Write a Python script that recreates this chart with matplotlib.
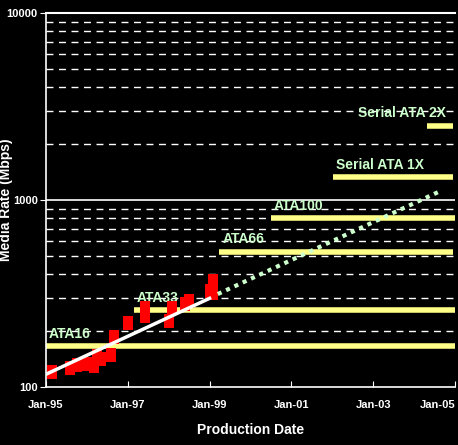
import numpy as np
import matplotlib
matplotlib.use('Agg')
import matplotlib.pyplot as plt
from matplotlib.ticker import FixedLocator, NullLocator

plt.rcParams['font.family'] = ['Liberation Sans', 'DejaVu Sans']

# measured drive media rates (decimal year, Mbps)
drive_dates = [1995.15, 1995.59, 1995.76, 1996.0, 1996.18, 1996.24, 1996.34, 1996.59,
               1996.67, 1997.01, 1997.41, 1997.41, 1998.01, 1998.09, 1998.41, 1998.5,
               1999.0, 1999.08, 1999.08]
drive_rates = [120, 126, 131, 132, 130, 147, 141, 148, 185, 219, 266, 240, 225, 266,
               278, 289, 327, 370, 317]

# trend line: fitted part and projection
fit_dates = [1995.0, 1999.0]
fit_rates = [117, 298]
proj_dates = [1999.2, 2004.58]
proj_rates = [314, 1100]

# interface rates
iface_names = ['ATA16', 'ATA33', 'ATA66', 'ATA100', 'Serial ATA 1X', 'Serial ATA 2X']
iface_start = [1995.0, 1997.16, 1999.24, 2000.49, 2002.02, 2004.31]
iface_end = [2005.0, 2005.0, 2004.95, 2005.0, 2004.95, 2004.95]
iface_rates = [165, 258, 530, 800, 1320, 2490]

year_ticks = [1995, 1997, 1999, 2001, 2003, 2005]
year_labels = ['Jan-95', 'Jan-97', 'Jan-99', 'Jan-01', 'Jan-03', 'Jan-05']
grid_vals = [200, 300, 400, 500, 600, 700, 800, 900,
             2000, 3000, 4000, 5000, 6000, 7000, 8000, 9000]

fig = plt.figure(figsize=(4.58, 4.45), dpi=100, facecolor='black')
ax = fig.add_axes([0.1004, 0.1303, 0.8930, 0.8405])
ax.set_facecolor('black')
ax.set_yscale('log')
ax.set_xlim(1995, 2005)
ax.set_ylim(100, 10000)

for v in grid_vals:
    ax.axhline(v, color='white', lw=1, ls=(0, (5, 4)), zorder=1)
ax.axhline(1000, color='white', lw=1.2, zorder=1)
ax.axhline(10000, color='white', lw=1.5, zorder=1, clip_on=False)

for i, (name, x0, x1, r) in enumerate(zip(iface_names, iface_start, iface_end, iface_rates)):
    ax.plot([x0, x1], [r, r], color='#ffff88', lw=4, solid_capstyle='butt', zorder=2)
    if i == len(iface_names) - 1:
        # last label sits right-aligned above its short bar
        ax.annotate(name, (x1, r), xytext=(-5, 9.5), textcoords='offset points',
                    color='#ccffcc', fontsize=10, fontweight='bold',
                    ha='right', va='center', zorder=3)
    else:
        ax.annotate(name, (x0, r), xytext=(2, 9), textcoords='offset points',
                    color='#ccffcc', fontsize=10, fontweight='bold',
                    ha='left', va='center', zorder=3)

rect = [(-0.35, -0.5), (0.35, -0.5), (0.35, 0.5), (-0.35, 0.5), (-0.35, -0.5)]
ax.plot(drive_dates, drive_rates, ls='none', marker=rect, markersize=10,
        color='#ff0000', markeredgewidth=0, zorder=4)

ax.plot(fit_dates, fit_rates, color='white', lw=2.5, zorder=5)
ax.plot(proj_dates, proj_rates, color='#ccffcc', lw=3, ls=(0, (1, 1.2)), zorder=5)

for s in ['top', 'right']:
    ax.spines[s].set_visible(False)
for s in ['left', 'bottom']:
    ax.spines[s].set_color('white')
    ax.spines[s].set_linewidth(1.2)

ax.xaxis.set_major_locator(FixedLocator(year_ticks))
ax.set_xticklabels(year_labels)
ax.yaxis.set_major_locator(FixedLocator([100, 1000, 10000]))
ax.yaxis.set_minor_locator(NullLocator())
ax.set_yticklabels(['100', '1000', '10000'])
ax.tick_params(axis='x', direction='in', length=4, color='white', labelcolor='white',
               labelsize=8, pad=9)
ax.tick_params(axis='y', direction='out', length=4, color='white', labelcolor='white',
               labelsize=8, pad=2)
for lbl in ax.get_xticklabels() + ax.get_yticklabels():
    lbl.set_fontweight('bold')
ax.get_xticklabels()[-1].set_horizontalalignment('right')

ax.set_xlabel('Production Date', color='white', fontsize=10, fontweight='bold', labelpad=10)
ax.set_ylabel('Media Rate (Mbps)', color='white', fontsize=10, fontweight='bold')
ax.yaxis.set_label_coords(-0.081, 0.5)

fig.savefig('out.png', dpi=100, facecolor='black')
